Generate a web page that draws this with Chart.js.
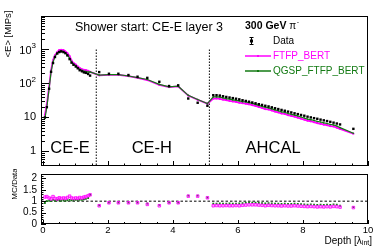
<!DOCTYPE html>
<html>
<head>
<meta charset="utf-8">
<script src="https://cdn.jsdelivr.net/npm/chart.js@4.4.0/dist/chart.umd.min.js"></script>
<style>
    html, body { margin: 0; padding: 0; background: #fff; }
    #wrap { position: relative; width: 374px; height: 249px; }
    #mainBox { position: absolute; left: 0; top: 0; width: 374px; height: 170px; }
    #ratioBox { position: absolute; left: 0; top: 169px; width: 374px; height: 80px; }
    canvas { display: block; }
</style>
</head>
<body>
<div id="wrap">
    <div id="mainBox"><canvas id="mainChart" width="374" height="170"></canvas></div>
    <div id="ratioBox"><canvas id="ratioChart" width="374" height="80"></canvas></div>
</div>
<script>
// depth of each layer [lambda_int]: CE-E, CE-H, AHCAL
const depth = [
    0.06, 0.12, 0.19, 0.25, 0.31, 0.37, 0.44, 0.50, 0.56, 0.63, 0.69, 0.75, 0.82, 0.88, 0.94, 1.01, 1.07, 1.13, 1.20, 1.26, 1.32, 1.39, 1.45,
    1.73, 2.03, 2.32, 2.63, 2.91, 3.21, 3.58, 3.88, 4.16, 4.47, 4.76, 5.06,
    5.24, 5.34, 5.44, 5.54, 5.64, 5.74, 5.84, 5.94, 6.04, 6.14, 6.24, 6.34, 6.44, 6.54, 6.64, 6.74, 6.84, 6.94, 7.04, 7.14,
    7.24, 7.34, 7.44, 7.54, 7.64, 7.74, 7.84, 7.94, 8.04, 8.14, 8.24, 8.34, 8.44, 8.54, 8.64, 8.74, 8.84, 8.94, 9.04, 9.14, 9.55
];

// <E> [MIPs]
const dataE = [
    10, 20, 70, 220, 400, 600, 760, 840, 875, 840, 780, 670, 520, 410, 355, 315, 280, 245, 228, 212, 205, 190, 170,
    216, 193, 193, 177, 158, 146, 112, 84, 88, 36, 27, 22,
    45, 45, 44, 42, 40, 38.5, 37, 35.5, 34, 32, 30.5, 29, 27.5, 26, 24.5, 23.3, 22, 21, 19.8, 18.6,
    17.6, 16.6, 15.7, 14.8, 14, 13.2, 12.5, 11.8, 11.2, 10.5, 10, 9.5, 9.1, 8.6, 8.2, 7.8, 7.4, 7.0, 6.6, 6.2, 4.6
];
const ftfpE = [
    11.8, 24, 80, 242, 480, 672, 836, 966, 980, 958, 874, 777, 634, 467, 398, 359, 314, 284, 260, 250, 246, 236, 218,
    173, 179, 179, 165, 147, 126, 90, 78, 82, 44, 33, 25.3,
    36, 36.5, 35.2, 33.6, 32.4, 30.8, 29.6, 28.8, 27.2, 26.2, 25.3, 24.4, 23.1, 21.8, 20.3, 19.1, 17.6, 17.2, 16, 14.9,
    14.1, 13.1, 12.6, 11.7, 11.1, 10.6, 9.9, 9.2, 8.6, 8, 7.7, 7.2, 6.8, 6.5, 6.15, 5.9, 5.55, 5.4, 5, 4.6, 3.3
];
const qgspE = [
    9.2, 20, 71, 220, 424, 612, 790, 874, 893, 874, 796, 697, 551, 426, 369, 334, 291, 260, 242, 229, 226, 217, 218,
    177, 181, 181, 166, 149, 131, 94, 79, 83, 44.6, 33.5, 25.5,
    40, 40, 39.6, 37.4, 35.6, 34.7, 32.9, 31.6, 30.6, 29.1, 28.4, 27.3, 25.9, 24.2, 22.5, 21.2, 19.8, 19.1, 17.8, 16.6,
    15.7, 14.6, 14, 13, 12.3, 11.7, 11, 10.3, 9.6, 8.9, 8.6, 8.1, 7.6, 7.3, 6.9, 6.6, 6.2, 6, 5.6, 5, 3.4
];

// MC/Data
const ftfpRatio = [
    1.18, 1.20, 1.14, 1.10, 1.20, 1.12, 1.10, 1.15, 1.12, 1.14, 1.12, 1.16, 1.22, 1.14, 1.12, 1.14, 1.12, 1.16, 1.14, 1.18, 1.20, 1.24, 1.28,
    0.80, 0.93, 0.93, 0.93, 0.93, 0.86, 0.80, 0.93, 0.93, 1.22, 1.22, 1.15,
    0.80, 0.81, 0.80, 0.80, 0.81, 0.80, 0.80, 0.81, 0.80, 0.82, 0.83, 0.84, 0.84, 0.84, 0.83, 0.82, 0.80, 0.82, 0.81, 0.80,
    0.80, 0.79, 0.80, 0.79, 0.79, 0.80, 0.79, 0.78, 0.77, 0.76, 0.77, 0.76, 0.75, 0.76, 0.75, 0.76, 0.75, 0.77, 0.76, 0.74, 0.72
];
const qgspRatio = [
    0.92, 1.00, 1.02, 1.00, 1.06, 1.02, 1.04, 1.04, 1.02, 1.04, 1.02, 1.04, 1.06, 1.04, 1.04, 1.06, 1.04, 1.06, 1.06, 1.08, 1.10, 1.14, 1.28,
    0.82, 0.94, 0.94, 0.94, 0.94, 0.90, 0.84, 0.94, 0.94, 1.24, 1.24, 1.16,
    0.89, 0.89, 0.90, 0.89, 0.89, 0.90, 0.89, 0.89, 0.90, 0.91, 0.93, 0.94, 0.94, 0.93, 0.92, 0.91, 0.90, 0.91, 0.90, 0.89,
    0.89, 0.88, 0.89, 0.88, 0.88, 0.89, 0.88, 0.87, 0.86, 0.85, 0.86, 0.85, 0.84, 0.85, 0.84, 0.85, 0.84, 0.86, 0.85, 0.80, 0.74
];

const xTicks = [0, 2, 4, 6, 8, 10];
const yTicksMain = [1, 10, 100, 1000];
const yTickBase = ['1', '10', '10', '10'];
const yTickExp = ['', '', '2', '3'];
const yTicksRatio = [0, 0.5, 1, 1.5, 2];
const boundaries = [1.64, 5.12];
const regionNames = ['CE-E', 'CE-H', 'AHCAL'];
const regionCentre = [0.83, 3.35, 7.08];

const FONT = "'Liberation Sans', Arial, sans-serif";
const PINK = '#ff00ff';
const GREEN = '#137a13';
const X_MIN = -0.06, X_MAX = 10;

Chart.defaults.font.family = FONT;
Chart.defaults.color = '#000';

function pts(ys) {
    return depth.map((x, i) => ({ x, y: ys[i] }));
}

// ROOT style frame with inward ticks
const frameTicks = {
    id: 'frameTicks',
    afterDraw(chart, args, opts) {
        const { ctx, chartArea: a, scales: { x, y } } = chart;
        ctx.save();
        ctx.strokeStyle = '#000';
        ctx.lineWidth = 1;
        ctx.strokeRect(Math.round(a.left) + 0.5, Math.round(a.top) + 0.5,
            Math.round(a.right - a.left) - 1, Math.round(a.bottom - a.top) - 1);

        ctx.beginPath();
        for (let v = 0; v <= 10.001; v += 0.5) {
            const px = Math.round(x.getPixelForValue(v)) + 0.5;
            const len = Math.abs(v % 2) < 0.01 ? opts.xMajor : opts.xMinor;
            ctx.moveTo(px, a.bottom);
            ctx.lineTo(px, a.bottom - len);
        }
        opts.yTicks.forEach(t => {
            const py = Math.round(y.getPixelForValue(t.v)) + 0.5;
            const len = t.major ? opts.yMajor : opts.yMinor;
            ctx.moveTo(a.left, py);
            ctx.lineTo(a.left + len, py);
        });
        ctx.stroke();
        ctx.restore();
    }
};

const logTicks = [];
for (let e = -1; e <= 3; e++) {
    for (let k = 1; k <= 9; k++) {
        const v = k * Math.pow(10, e);
        if (v >= 0.37 && v <= 9700) logTicks.push({ v, major: k === 1 });
    }
}
const ratioTicks = [];
for (let i = 0; i <= 22; i++) {
    ratioTicks.push({ v: i / 10, major: i % 5 === 0 });
}

const mainText = {
    id: 'mainText',
    afterDraw(chart) {
        const { ctx, scales: { x, y } } = chart;
        ctx.save();
        ctx.fillStyle = '#000';

        // y tick labels
        ctx.textAlign = 'right';
        ctx.textBaseline = 'middle';
        yTicksMain.forEach((v, i) => {
            const py = y.getPixelForValue(v);
            if (yTickExp[i]) {
                ctx.font = '8px ' + FONT;
                const ew = ctx.measureText(yTickExp[i]).width;
                ctx.fillText(yTickExp[i], 36, py - 4);
                ctx.font = '11px ' + FONT;
                ctx.fillText(yTickBase[i], 36 - ew, py + 1);
            } else {
                ctx.font = '11px ' + FONT;
                ctx.fillText(yTickBase[i], 36, py);
            }
        });

        // y title
        ctx.save();
        ctx.translate(8, 34);
        ctx.rotate(-Math.PI / 2);
        ctx.textAlign = 'center';
        ctx.font = '9.5px ' + FONT;
        ctx.fillText('<E> [MIPs]', 0, 0);
        ctx.restore();

        // header
        ctx.textAlign = 'left';
        ctx.font = '12.5px ' + FONT;
        ctx.fillText('Shower start: CE-E layer 3', 75, 28);

        // region labels
        ctx.textAlign = 'center';
        ctx.font = '16.5px ' + FONT;
        regionNames.forEach((n, i) => {
            ctx.fillText(n, x.getPixelForValue(regionCentre[i]), y.getPixelForValue(1.22));
        });

        // legend
        ctx.textAlign = 'left';
        ctx.font = 'bold 10.5px ' + FONT;
        ctx.fillText('300 GeV', 245, 26);
        let w = ctx.measureText('300 GeV ').width;
        ctx.font = '10px ' + FONT;
        ctx.fillText('\u03c0', 245 + w, 26);
        w += ctx.measureText('\u03c0').width;
        ctx.font = '7px ' + FONT;
        ctx.fillText('-', 245 + w + 0.5, 22.5);

        ctx.strokeStyle = '#000';
        ctx.lineWidth = 1;
        ctx.beginPath();
        ctx.moveTo(251.5, 37); ctx.lineTo(251.5, 45);
        ctx.moveTo(249.5, 37.5); ctx.lineTo(253.5, 37.5);
        ctx.moveTo(249.5, 44.5); ctx.lineTo(253.5, 44.5);
        ctx.stroke();
        ctx.fillRect(250, 39.5, 3, 3);
        ctx.font = '10px ' + FONT;
        ctx.fillText('Data', 273, 41);

        ctx.lineWidth = 1.5;
        ctx.strokeStyle = PINK;
        ctx.beginPath(); ctx.moveTo(245, 56); ctx.lineTo(271, 56); ctx.stroke();
        ctx.fillStyle = PINK;
        ctx.fillRect(257, 55, 2, 2);
        ctx.fillText('FTFP_BERT', 273, 56);

        ctx.strokeStyle = GREEN;
        ctx.beginPath(); ctx.moveTo(245, 71); ctx.lineTo(271, 71); ctx.stroke();
        ctx.fillStyle = GREEN;
        ctx.fillRect(257, 70, 2, 2);
        ctx.fillText('QGSP_FTFP_BERT', 273, 71);
        ctx.restore();
    }
};

const ratioText = {
    id: 'ratioText',
    afterDraw(chart) {
        const { ctx, chartArea: area, scales: { x, y } } = chart;
        ctx.save();
        ctx.fillStyle = '#000';
        ctx.textBaseline = 'middle';

        // tick labels
        ctx.textAlign = 'right';
        ctx.font = '10px ' + FONT;
        yTicksRatio.forEach(v => ctx.fillText(String(v), 37, y.getPixelForValue(v)));
        ctx.textAlign = 'center';
        ctx.font = '9.5px ' + FONT;
        xTicks.forEach(v => ctx.fillText(String(v), x.getPixelForValue(v), area.bottom + 6));

        ctx.save();
        ctx.translate(15, 15);
        ctx.rotate(-Math.PI / 2);
        ctx.textAlign = 'center';
        ctx.font = '8px ' + FONT;
        ctx.fillText('MC/Data', 0, 0);
        ctx.restore();

        // x title, right aligned
        ctx.textAlign = 'left';
        const a = 'Depth [\u03bb';
        ctx.font = '7px ' + FONT;
        const sw = ctx.measureText('int').width;
        ctx.font = '10px ' + FONT;
        const aw = ctx.measureText(a).width;
        const bw = ctx.measureText(']').width;
        const x0 = 372 - aw - sw - bw;
        ctx.fillText(a, x0, 72);
        ctx.fillText(']', x0 + aw + sw, 72);
        ctx.font = '7px ' + FONT;
        ctx.fillText('int', x0 + aw, 74.5);
        ctx.restore();
    }
};

const boundaryLines = boundaries.map(b => ({
    data: [{ x: b, y: 1000 }, { x: b, y: 0.37 }],
    showLine: true,
    borderColor: '#000',
    borderWidth: 1,
    borderDash: [1.5, 1.5],
    pointRadius: 0
}));

const hiddenAxis = {
    ticks: { display: false },
    grid: { display: false },
    border: { display: false }
};

new Chart(document.getElementById('mainChart'), {
    type: 'scatter',
    data: {
        datasets: [
            {
                label: 'Data',
                data: pts(dataE),
                pointStyle: 'rect',
                pointRadius: 1.7,
                backgroundColor: '#000',
                borderColor: '#000',
                borderWidth: 0,
                showLine: false
            },
            {
                label: 'QGSP_FTFP_BERT',
                data: pts(qgspE),
                showLine: true,
                borderColor: GREEN,
                backgroundColor: GREEN,
                borderWidth: 1.2,
                pointRadius: 0.8,
                pointBorderWidth: 0
            },
            {
                label: 'FTFP_BERT',
                data: pts(ftfpE),
                showLine: true,
                borderColor: PINK,
                backgroundColor: PINK,
                borderWidth: 1.8,
                pointRadius: 1.1,
                pointBorderWidth: 0
            },
            ...boundaryLines
        ]
    },
    options: {
        responsive: false,
        animation: false,
        events: [],
        layout: { padding: { left: 0, right: 6, top: 16, bottom: 1 } },
        plugins: {
            legend: { display: false },
            tooltip: { enabled: false },
            frameTicks: { xMajor: 5, xMinor: 2.5, yMajor: 8, yMinor: 4, yTicks: logTicks }
        },
        scales: {
            x: { type: 'linear', min: X_MIN, max: X_MAX, display: false },
            y: {
                type: 'logarithmic',
                min: 0.37,
                max: 9700,
                ...hiddenAxis,
                afterFit: s => { s.width = 41; }
            }
        }
    },
    plugins: [frameTicks, mainText]
});

new Chart(document.getElementById('ratioChart'), {
    type: 'scatter',
    data: {
        datasets: [
            {
                label: 'FTFP_BERT',
                data: pts(ftfpRatio),
                pointStyle: 'rect',
                pointRadius: 1.8,
                borderWidth: 0.8,
                borderColor: PINK,
                backgroundColor: 'rgba(255,0,255,0.35)'
            },
            {
                label: 'QGSP_FTFP_BERT',
                data: pts(qgspRatio),
                pointStyle: 'rect',
                pointRadius: 1.3,
                borderWidth: 0,
                backgroundColor: GREEN
            },
            {
                data: [{ x: X_MIN, y: 1 }, { x: X_MAX, y: 1 }],
                showLine: true,
                borderColor: '#000',
                borderWidth: 1,
                borderDash: [2.5, 2],
                pointRadius: 0
            }
        ]
    },
    options: {
        responsive: false,
        animation: false,
        events: [],
        layout: { padding: { left: 0, right: 6, top: 0, bottom: 0 } },
        plugins: {
            legend: { display: false },
            tooltip: { enabled: false },
            frameTicks: { xMajor: 4, xMinor: 2, yMajor: 5, yMinor: 2.5, yTicks: ratioTicks }
        },
        scales: {
            x: {
                type: 'linear',
                min: X_MIN,
                max: X_MAX,
                ...hiddenAxis,
                afterFit: s => { s.height = 25; }
            },
            y: {
                type: 'linear',
                min: 0,
                max: 2.2,
                ...hiddenAxis,
                afterFit: s => { s.width = 41; }
            }
        }
    },
    plugins: [frameTicks, ratioText]
});
</script>
</body>
</html>
